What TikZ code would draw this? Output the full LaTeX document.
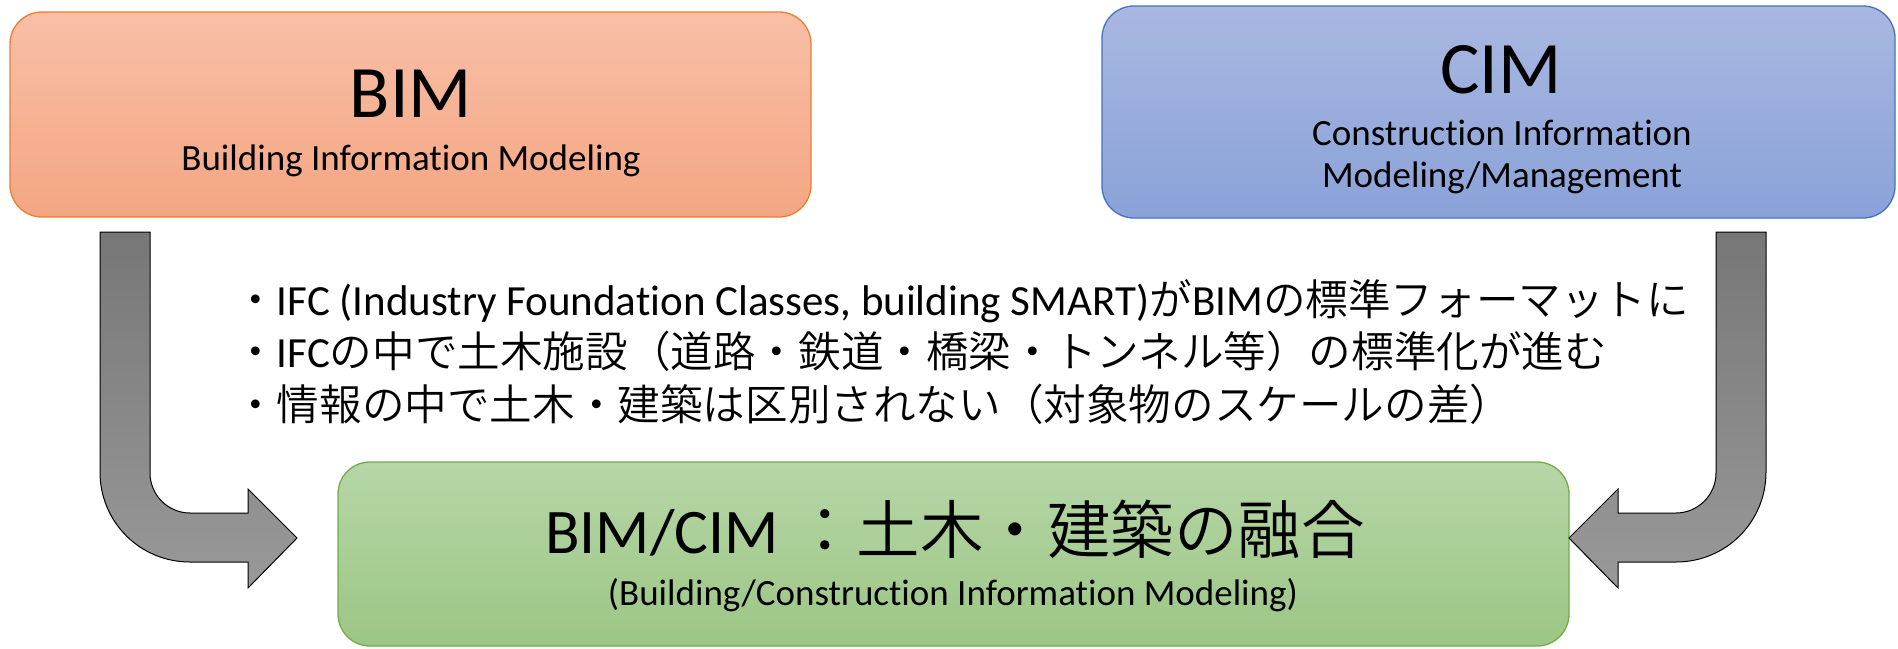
\documentclass[tikz,border=0pt]{standalone}
\usepackage{fontspec}
\setmainfont{Carlito}[Ligatures={NoCommon}]
\newfontfamily\cjk{Noto Sans CJK JP DemiLight}
\newcommand\J[1]{{\cjk #1}}
\definecolor{bimtop}{HTML}{F8BFA6}
\definecolor{bimbot}{HTML}{F4A683}
\definecolor{bimline}{HTML}{ED7D31}
\definecolor{cimtop}{HTML}{A9B8E1}
\definecolor{cimbot}{HTML}{8AA2D8}
\definecolor{cimline}{HTML}{4472C4}
\definecolor{gtop}{HTML}{B6D6A7}
\definecolor{gbot}{HTML}{9CC685}
\definecolor{gline}{HTML}{70AD47}
\definecolor{artop}{HTML}{777777}
\definecolor{arbot}{HTML}{999999}
\tikzset{
  box/.style={draw, line width=1.3pt, rounded corners=32pt, inner sep=0pt},
  bigtxt/.style={anchor=base, font=\fontsize{74}{80}\selectfont},
  subtxt/.style={anchor=base, font=\fontsize{37}{44}\selectfont},
  bullettxt/.style={anchor=base west, font=\fontsize{43}{50}\selectfont, inner sep=0pt},
  blockarrow/.style={draw=black, line width=1pt, line join=miter, top color=artop, bottom color=arbot}
}
\newcommand\JB[1]{{\fontsize{42.6}{50}\selectfont\cjk #1}}
\begin{document}
\begin{tikzpicture}[x=1pt,y=-1pt]
\useasboundingbox (0,0) rectangle (1898,648);
% boxes
\node[box, draw=bimline, top color=bimtop, bottom color=bimbot,
      minimum width=801pt, minimum height=205pt] (bim) at (410.5,114.5) {};
\node[box, draw=cimline, top color=cimtop, bottom color=cimbot,
      minimum width=793pt, minimum height=212pt] (cim) at (1498.5,112) {};
\node[box, draw=gline, top color=gtop, bottom color=gbot,
      minimum width=1231pt, minimum height=184pt] (fus) at (953.5,554) {};
% box texts
\node[bigtxt] (bimT) at (411,117) {BIM};
\node[subtxt] (bimS) at (411,170) {Building Information Modeling};
\node[bigtxt] (cimT) at (1501,93) {CIM};
\node[subtxt] (cimS1) at (1502,145) {Construction Information};
\node[subtxt] (cimS2) at (1502,187) {Modeling/Management};
\node[anchor=base, font=\fontsize{63.5}{70}\selectfont] (fusT) at (955,553) {BIM/CIM \J{：土木・建築の融合}};
\node[subtxt] (fusS) at (953,605) {(Building/Construction Information Modeling)};
% bullet text
\node[bullettxt] (l1) at (234,315) {\JB{・}IFC (Industry Foundation Classes, building SMART)\JB{が}BIM\JB{の標準フォーマットに}};
\node[bullettxt] (l2) at (234,367) {\JB{・}IFC\JB{の中で土木施設（道路・鉄道・橋梁・トンネル等）の標準化が進む}};
\node[bullettxt] (l3) at (234,420) {\JB{・情報の中で土木・建築は区別されない（対象物のスケールの差）}};
% block arrows
\coordinate (la) at (100,232);
\coordinate (ra) at (1766,232);
\path[blockarrow] (la) -- (150,232) -- (150,473) .. controls (150,495) and (168,513) .. (190,513)
  -- (248,513) -- (248,489) -- (297,538) -- (248,588) -- (248,562) -- (190,562)
  .. controls (140,562) and (100,522) .. (100,472) -- cycle;
\path[blockarrow] (ra) -- (1716,232) -- (1716,473) .. controls (1716,495) and (1698,513) .. (1676,513)
  -- (1618,513) -- (1618,489) -- (1569,538) -- (1618,588) -- (1618,562) -- (1676,562)
  .. controls (1726,562) and (1766,522) .. (1766,472) -- cycle;
\end{tikzpicture}
\end{document}
